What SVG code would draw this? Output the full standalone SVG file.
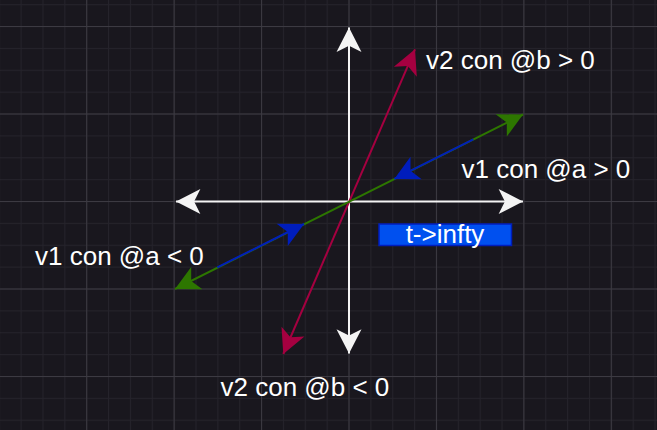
<svg xmlns="http://www.w3.org/2000/svg" width="657" height="430" viewBox="0 0 657 430">
  <style>
    .lbl { font-family: "Liberation Sans", Arial, sans-serif; font-size: 26px; fill: #ffffff; }
    .ax { stroke: #f4f4f4; stroke-width: 2; fill: none; }
    .cr { stroke: #a50040; stroke-width: 2; fill: none; }
    .gr { stroke: #2d7600; stroke-width: 2; fill: none; }
    .bl { stroke: #001dbc; stroke-width: 2; fill: none; }
  </style>
  <defs>
    <pattern id="minor" x="348.5" y="201" width="21.86" height="21.87" patternUnits="userSpaceOnUse">
      <rect x="0" y="0" width="1" height="21.87" fill="#25232b"/>
      <rect x="0" y="0" width="21.86" height="1" fill="#25232b"/>
    </pattern>
    <pattern id="major" x="348.5" y="201" width="87.43" height="87.5" patternUnits="userSpaceOnUse">
      <rect x="0" y="0" width="1" height="87.5" fill="#3c3a42"/>
      <rect x="0" y="0" width="87.43" height="1" fill="#3c3a42"/>
    </pattern>
    <marker id="mW" markerUnits="userSpaceOnUse" markerWidth="30" markerHeight="30" viewBox="-22 -12 24 24" refX="0" refY="0" orient="auto-start-reverse" overflow="visible">
      <path d="M0 0 L-19.5 -10 L-14.5 0 L-19.5 10 Z" fill="#f4f4f4"/>
    </marker>
    <marker id="mC" markerUnits="userSpaceOnUse" markerWidth="30" markerHeight="30" viewBox="-22 -12 24 24" refX="0" refY="0" orient="auto-start-reverse" overflow="visible">
      <path d="M0 0 L-19.5 -10 L-14.5 0 L-19.5 10 Z" fill="#a50040"/>
    </marker>
    <marker id="mG" markerUnits="userSpaceOnUse" markerWidth="30" markerHeight="30" viewBox="-22 -12 24 24" refX="0" refY="0" orient="auto-start-reverse" overflow="visible">
      <path d="M0 0 L-19.5 -10 L-14.5 0 L-19.5 10 Z" fill="#2d7600"/>
    </marker>
    <marker id="mB" markerUnits="userSpaceOnUse" markerWidth="30" markerHeight="30" viewBox="-22 -12 24 24" refX="0" refY="0" orient="auto-start-reverse" overflow="visible">
      <path d="M0 0 L-19.5 -10 L-14.5 0 L-19.5 10 Z" fill="#001dbc"/>
    </marker>
  </defs>

  <rect x="0" y="0" width="657" height="430" fill="#19171e"/>
  <rect x="0" y="0" width="657" height="430" fill="url(#minor)"/>
  <rect x="0" y="0" width="657" height="430" fill="url(#major)"/>

  <g id="connectors">
    <line class="ax" x1="176" y1="201.5" x2="523" y2="201.5" marker-start="url(#mW)" marker-end="url(#mW)"/>
    <line class="ax" x1="349" y1="353.5" x2="349" y2="27.5" marker-start="url(#mW)" marker-end="url(#mW)"/>
    <line class="cr" x1="283.3" y1="354" x2="415" y2="49.3" marker-start="url(#mC)" marker-end="url(#mC)"/>
    <line class="gr" x1="175" y1="289" x2="523" y2="114.5" marker-start="url(#mG)" marker-end="url(#mG)"/>
    <line class="bl" x1="473.3" y1="139.3" x2="394.3" y2="178.9" marker-end="url(#mB)"/>
    <line class="bl" x1="217.3" y1="267.4" x2="304" y2="224" marker-end="url(#mB)"/>
  </g>

  <g id="label-v2-pos">
    <text class="lbl" x="426" y="69">v2 con @b &gt; 0</text>
  </g>
  <g id="label-v1-pos">
    <text class="lbl" x="461.5" y="177.5">v1 con @a &gt; 0</text>
  </g>
  <g id="label-v1-neg">
    <text class="lbl" x="35" y="264.5">v1 con @a &lt; 0</text>
  </g>
  <g id="label-v2-neg">
    <text class="lbl" x="220.5" y="396">v2 con @b &lt; 0</text>
  </g>
  <g id="node-tinfty">
    <rect x="379" y="224" width="132.5" height="21.5" fill="#0050ef" stroke="#001dbc" stroke-width="1.5"/>
    <text class="lbl" x="445" y="243.3" text-anchor="middle">t-&gt;infty</text>
  </g>
</svg>
